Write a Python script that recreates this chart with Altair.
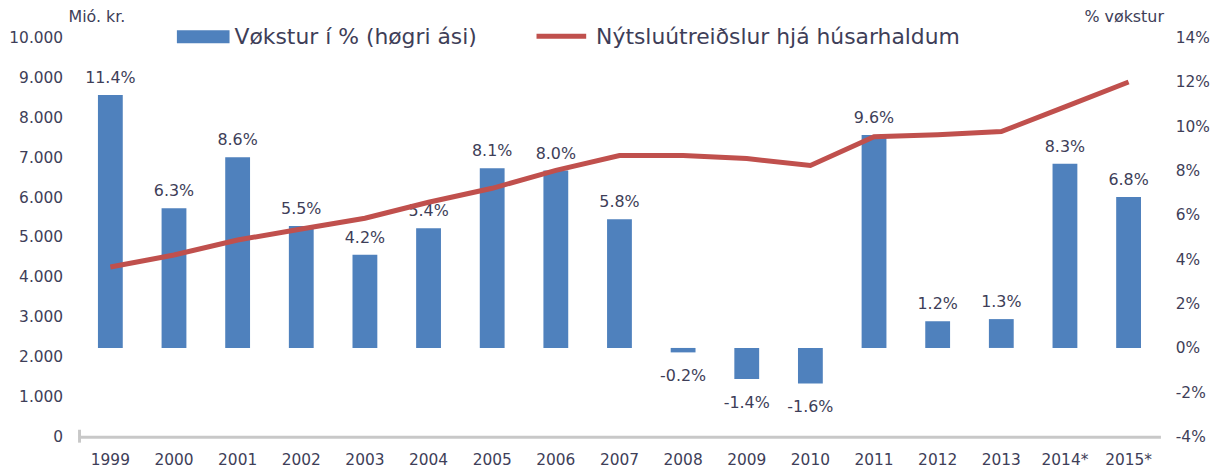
import altair as alt
import pandas as pd

years = ["1999", "2000", "2001", "2002", "2003", "2004", "2005", "2006", "2007",
         "2008", "2009", "2010", "2011", "2012", "2013", "2014*", "2015*"]
growth_pct = [11.4, 6.3, 8.6, 5.5, 4.2, 5.4, 8.1, 8.0, 5.8,
              -0.2, -1.4, -1.6, 9.6, 1.2, 1.3, 8.3, 6.8]
consumption = [4250, 4550, 4925, 5200, 5470, 5870, 6220, 6670, 7040,
               7040, 6965, 6790, 7510, 7560, 7640, 8260, 8880]

legend_bar = "Vøkstur í % (høgri ási)"
legend_line = "Nýtsluútreiðslur hjá húsarhaldum"

df = pd.DataFrame({"year": years, "pct": growth_pct, "cons": consumption})
df["label"] = [f"{v:.1f}%" for v in growth_pct]

FONT = "DejaVu Sans"
TXT = "#3e3e58"
BLUE = "#4f81bd"
RED = "#c0504d"
AXFS = 15.5

xenc = alt.X("year:N", sort=years, title=None,
             scale=alt.Scale(paddingInner=0.61, paddingOuter=0.305),
             axis=alt.Axis(labelAngle=0, ticks=False, domainColor="#c8c8c8",
                           domainWidth=3, labelFontSize=AXFS, labelColor=TXT,
                           labelFont=FONT, labelPadding=16))

yp = alt.Y("pct:Q", title="% vøkstur",
           scale=alt.Scale(domain=[-4, 14], nice=False),
           axis=alt.Axis(orient="right", values=list(range(-4, 15, 2)),
                         labelExpr="datum.value + '%'", grid=False, domain=False,
                         ticks=False, labelFontSize=AXFS, labelColor=TXT,
                         labelFont=FONT, labelPadding=15, titleAngle=0,
                         titleX=-37, titleY=-21, titleAlign="center",
                         titleBaseline="middle", titleFontSize=16,
                         titleFontWeight="normal", titleColor=TXT, titleFont=FONT))

base = alt.Chart(df)
bars = base.mark_bar(color=BLUE).encode(x=xenc, y=yp)
lab_pos = base.transform_filter("datum.pct >= 0").mark_text(
    baseline="bottom", dy=-9, fontSize=16, font=FONT, color=TXT
).encode(x=xenc, y=yp, text="label:N")
lab_neg = base.transform_filter("datum.pct < 0").mark_text(
    baseline="top", dy=16, fontSize=16, font=FONT, color=TXT
).encode(x=xenc, y=yp, text="label:N")
bar_layer = alt.layer(bars, lab_pos, lab_neg)

line = base.mark_line(color=RED, strokeWidth=5).encode(
    x=xenc,
    y=alt.Y("cons:Q", title="Mió. kr.",
            scale=alt.Scale(domain=[0, 10000], nice=False),
            axis=alt.Axis(orient="left", values=list(range(0, 10001, 1000)),
                          labelExpr="replace(format(datum.value, ','), ',', '.')",
                          grid=False, domain=False, ticks=False, labelFontSize=AXFS,
                          labelColor=TXT, labelFont=FONT, labelPadding=16,
                          titleAngle=0, titleX=18, titleY=-21, titleAlign="center",
                          titleBaseline="middle", titleFontSize=16,
                          titleFontWeight="normal", titleColor=TXT, titleFont=FONT)),
)

dummy = alt.Chart(pd.DataFrame({"a": [0]}))
leg_rect = dummy.mark_rect(color=BLUE).encode(
    x=alt.value(99), x2=alt.value(152), y=alt.value(-7), y2=alt.value(6))
leg_text1 = dummy.mark_text(align="left", baseline="middle", fontSize=22,
                            font=FONT, color=TXT, text=legend_bar).encode(
    x=alt.value(157), y=alt.value(0))
leg_line = dummy.mark_rule(color=RED, strokeWidth=5).encode(
    x=alt.value(461), x2=alt.value(511), y=alt.value(-1))
leg_text2 = dummy.mark_text(align="left", baseline="middle", fontSize=22,
                            font=FONT, color=TXT, text=legend_line).encode(
    x=alt.value(521), y=alt.value(0))
axis_tick = dummy.mark_rule(color="#c8c8c8", strokeWidth=3).encode(
    x=alt.value(1), y=alt.value(395), y2=alt.value(408))

chart = alt.layer(bar_layer, line, axis_tick, leg_rect, leg_text1, leg_line,
                  leg_text2).resolve_scale(
    y="independent"
).properties(
    width=1089, height=402,
    autosize=alt.AutoSizeParams(type="none"),
    padding={"left": 71, "top": 28, "right": 62, "bottom": 32},
    background="white",
).configure_view(stroke=None)

chart.save("out.html", embed_options={"renderer": "svg", "actions": False})
